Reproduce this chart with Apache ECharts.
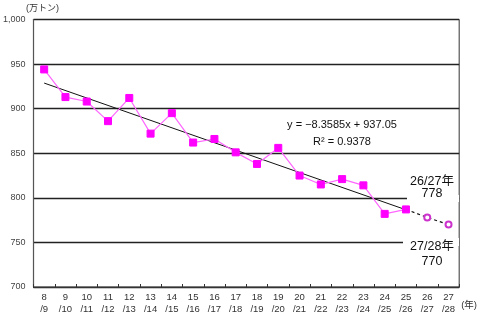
<!DOCTYPE html>
<html><head><meta charset="utf-8">
<script src="https://cdn.jsdelivr.net/npm/echarts@6/dist/echarts.min.js"></script>
<style>html,body{margin:0;padding:0;background:#fff}#c{width:480px;height:325px}</style>
</head><body><div id="c"></div>
<script>
var categories = ['8\n/9','9\n/10','10\n/11','11\n/12','12\n/13','13\n/14','14\n/15','15\n/16','16\n/17','17\n/18','18\n/19','19\n/20','20\n/21','21\n/22','22\n/23','23\n/24','24\n/25','25\n/26','26\n/27','27\n/28'];
var actual = [944, 913, 908, 886, 912, 872, 895, 862, 866, 851, 838, 856, 825, 815, 821, 814, 782, 787, null, null];
var trend = [928.7, null, null, null, null, null, null, null, null, null, null, null, null, null, null, null, null, 786.6, null, null];
var projection = [null, null, null, null, null, null, null, null, null, null, null, null, null, null, null, null, null, 787, 778, 770];
var yTicks = {min: 700, max: 1000, interval: 50};

var chart = echarts.init(document.getElementById('c'), null, {renderer: 'canvas'});
var font = 'Arial, "Liberation Sans", "Noto Sans CJK JP", sans-serif';
chart.setOption({
  animation: false,
  grid: {left: 33, right: 20, top: 19.5, bottom: 38, show: true, borderColor: '#333', borderWidth: 1, backgroundColor: 'transparent'},
  xAxis: {
    type: 'category', data: categories, boundaryGap: true,
    name: '(年)', nameLocation: 'end', nameGap: 2,
    nameTextStyle: {fontSize: 9.5, color: '#333', fontFamily: font, verticalAlign: 'top', padding: [14, 0, 0, 0]},
    axisLine: {lineStyle: {color: '#333', width: 1.2}},
    axisTick: {show: true, inside: true, length: 3, alignWithLabel: false, lineStyle: {color: '#333'}},
    axisLabel: {fontSize: 9.5, color: '#333', fontFamily: font, lineHeight: 11.5, margin: 5, interval: 0}
  },
  yAxis: {
    type: 'value', min: yTicks.min, max: yTicks.max, interval: yTicks.interval,
    axisLine: {show: true, lineStyle: {color: '#555', width: 1.2}},
    axisTick: {show: false},
    axisLabel: {fontSize: 9, color: '#444', fontFamily: font, margin: 8,
      formatter: function (v) { return v >= 1000 ? '1,000' : String(v); }},
    splitLine: {show: true, lineStyle: {color: '#222', width: 1.3}}
  },
  graphic: [
    {type: 'text', left: 26, top: 4, z: 10, style: {text: '(万トン)', fontSize: 9, fill: '#333', fontFamily: font}},
    {type: 'rect', shape: {x: 407, y: 195, width: 52, height: 7}, style: {fill: '#fff'}, z: 1, silent: true},
    {type: 'rect', shape: {x: 403, y: 238, width: 56, height: 8}, style: {fill: '#fff'}, z: 1, silent: true},
    {type: 'text', x: 342, y: 125, z: 10, style: {text: 'y = −8.3585x + 937.05', fontSize: 11, fill: '#111', fontFamily: font, textAlign: 'center', textVerticalAlign: 'middle'}},
    {type: 'text', x: 342, y: 141.5, z: 10, style: {text: 'R² = 0.9378', fontSize: 11, fill: '#111', fontFamily: font, textAlign: 'center', textVerticalAlign: 'middle'}},
    {type: 'text', x: 432, y: 181.5, z: 10, style: {text: '26/27年', fontSize: 12.5, fill: '#111', fontFamily: font, textAlign: 'center', textVerticalAlign: 'middle'}},
    {type: 'text', x: 432, y: 193.5, z: 10, style: {text: '778', fontSize: 12.5, fill: '#111', fontFamily: font, textAlign: 'center', textVerticalAlign: 'middle'}},
    {type: 'text', x: 432, y: 247, z: 10, style: {text: '27/28年', fontSize: 12.5, fill: '#111', fontFamily: font, textAlign: 'center', textVerticalAlign: 'middle'}},
    {type: 'text', x: 432, y: 262, z: 10, style: {text: '770', fontSize: 12.5, fill: '#111', fontFamily: font, textAlign: 'center', textVerticalAlign: 'middle'}}
  ],
  series: [
    {type: 'line', data: trend, connectNulls: true, symbol: 'none', z: 3,
      lineStyle: {color: '#111', width: 1}},
    {type: 'line', data: projection.map(function (v, i) { return i === 17 ? {value: v, symbol: 'none'} : v; }),
      symbol: 'emptyCircle', symbolSize: 6, showSymbol: true, showAllSymbol: true, z: 3,
      lineStyle: {color: '#111', width: 1.2, type: [3, 3]},
      itemStyle: {color: '#cc33cc', borderWidth: 1.2}},
    {type: 'line', data: actual, symbol: 'rect', symbolSize: 7, z: 4,
      lineStyle: {color: '#ff66ff', width: 1.2},
      itemStyle: {color: '#ff00ff', borderColor: '#ff00ff'}}
  ]
});
</script></body></html>
